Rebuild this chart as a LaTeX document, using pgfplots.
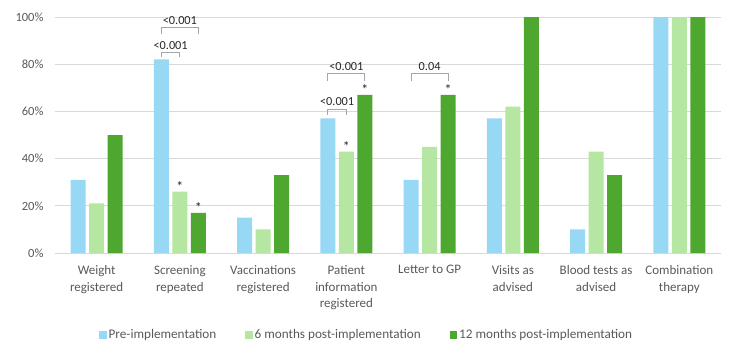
\documentclass[border=0pt]{standalone}
\usepackage{fontspec}
\setmainfont{Carlito}
\usepackage{pgfplots}
\pgfplotsset{compat=1.18}
\definecolor{cpre}{HTML}{97D9F5}
\definecolor{csix}{HTML}{B5E6A2}
\definecolor{ctw}{HTML}{4EA72E}
\definecolor{gridc}{HTML}{D9D9D9}
\definecolor{txt}{HTML}{595959}
\definecolor{brk}{HTML}{A6A6A6}
\definecolor{ann}{HTML}{262626}
\begin{document}
\begin{tikzpicture}[x=1pt,y=1pt]
\useasboundingbox (-55,-104) rectangle (683,253);
\begin{axis}[
  at={(0,0)}, anchor=south west,
  scale only axis, width=666pt, height=236pt,
  xmin=-0.5, xmax=7.5, ymin=0, ymax=100,
  ybar=3.5pt, bar width=15pt,
  axis line style={draw=none},
  major tick length=0pt,
  ymajorgrids, grid style={gridc, line width=0.8pt},
  ytick={0,20,40,60,80,100},
  yticklabel={\pgfmathprintnumber{\tick}\%},
  /pgf/number format/assume math mode=true,
  yticklabel style={font=\fontsize{12.5}{14}\selectfont, text=txt, xshift=-8pt},
  xtick={0,...,7},
  xticklabels={Weight\\registered, Screening\\repeated, Vaccinations\\registered, Patient\\information\\registered, Letter to GP, Visits as\\advised, Blood tests as\\advised, Combination\\therapy},
  xticklabel style={font=\fontsize{13}{16.7}\selectfont, text=txt, align=center, yshift=-9pt},
  clip=false,
  legend style={at={(0.468,-0.347)}, anchor=center, draw=none, fill=none,
    legend columns=3, font=\fontsize{13.2}{15}\selectfont, text=txt,
    /tikz/every even column/.append style={column sep=27pt}},
  legend image code/.code={\fill[#1] (0pt,-3.7pt) rectangle (7.4pt,3.7pt);},
]
\addplot[fill=cpre, draw=none] coordinates {(0,31) (1,82) (2,15) (3,57) (4,31) (5,57) (6,10) (7,100)};
\addplot[fill=csix, draw=none] coordinates {(0,21) (1,26) (2,10) (3,43) (4,45) (5,62) (6,43) (7,100)};
\addplot[fill=ctw, draw=none] coordinates {(0,50) (1,17) (2,33) (3,67) (4,67) (5,100) (6,33) (7,100)};
\legend{Pre-implementation, 6 months post-implementation, 12 months post-implementation}
% brackets
\draw[brk, line width=0.8pt] (axis cs:0.778,82.9) -- (axis cs:0.778,84.9) -- (axis cs:1.0,84.9) -- (axis cs:1.0,82.9);
\node[ann, font=\fontsize{12.3}{14}\selectfont] at (axis cs:0.889,88.1) {<0.001};
\draw[brk, line width=0.8pt] (axis cs:0.778,92.7) -- (axis cs:0.778,95.5) -- (axis cs:1.222,95.5) -- (axis cs:1.222,92.7);
\node[ann, font=\fontsize{12.3}{14}\selectfont] at (axis cs:1.0,98.3) {<0.001};
\draw[brk, line width=0.8pt] (axis cs:2.778,58.5) -- (axis cs:2.778,61) -- (axis cs:3.0,61) -- (axis cs:3.0,58.5);
\node[ann, font=\fontsize{12.3}{14}\selectfont] at (axis cs:2.889,64.1) {<0.001};
\draw[brk, line width=0.8pt] (axis cs:2.778,73) -- (axis cs:2.778,76.1) -- (axis cs:3.222,76.1) -- (axis cs:3.222,73);
\node[ann, font=\fontsize{12.3}{14}\selectfont] at (axis cs:3.0,79) {<0.001};
\draw[brk, line width=0.8pt] (axis cs:3.778,73) -- (axis cs:3.778,76.1) -- (axis cs:4.222,76.1) -- (axis cs:4.222,73);
\node[ann, font=\fontsize{12.3}{14}\selectfont] at (axis cs:4.0,79) {0.04};
% stars
\node[ann, font=\fontsize{14}{16}\selectfont, anchor=base, inner sep=0pt] at (axis cs:1.0,26) {*};
\node[ann, font=\fontsize{14}{16}\selectfont, anchor=base, inner sep=0pt] at (axis cs:1.222,17) {*};
\node[ann, font=\fontsize{14}{16}\selectfont, anchor=base, inner sep=0pt] at (axis cs:3.0,43) {*};
\node[ann, font=\fontsize{14}{16}\selectfont, anchor=base, inner sep=0pt] at (axis cs:3.222,67) {*};
\node[ann, font=\fontsize{14}{16}\selectfont, anchor=base, inner sep=0pt] at (axis cs:4.222,67) {*};
\end{axis}
\end{tikzpicture}
\end{document}
